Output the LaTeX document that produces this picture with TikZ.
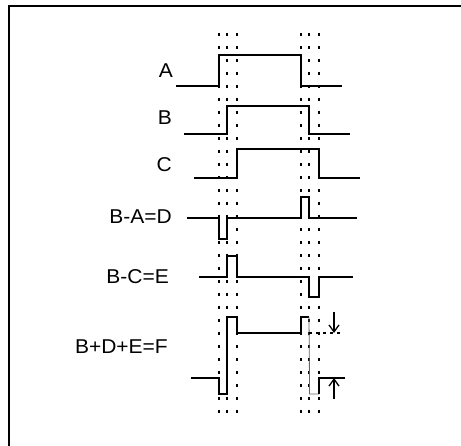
\documentclass[tikz,border=0pt]{standalone}
\usepackage{fontspec}
\setmainfont{Liberation Sans}
\usetikzlibrary{arrows.meta}
\begin{document}
\begin{tikzpicture}[x=1pt,y=-1pt,
  sig/.style={line width=2pt, line join=miter},
  guide/.style={line width=1.8pt, dash pattern=on 3.5pt off 9.5pt},
  lbl/.style={anchor=east, inner sep=0pt, font=\fontsize{20}{24}\selectfont},
  thinsig/.style={line width=0.8pt, black!60},
  meas/.style={line width=1.3pt, -{Straight Barb[length=7pt,width=10pt]}},
  level/.style={line width=1.6pt, dash pattern=on 3pt off 4pt}
]
\useasboundingbox (0,0) rectangle (461,446);
% frame (top and left only)
\draw[line width=2pt] (461,6) -- (8.5,6) -- (8.5,446);
% guide lines
\foreach \gx/\gn in {219/a,227/b,237/c,301/d,309/e,319/f}{
  \coordinate (gt\gn) at (\gx,33);
  \coordinate (gb\gn) at (\gx,418);
  \draw[guide] (gt\gn) -- (gb\gn);
}
% labels
\node[lbl] (lA) at (173,71) {\scalebox{1.05}[1]{A}};
\node[lbl] (lB) at (172,118) {\scalebox{1.05}[1]{B}};
\node[lbl] (lC) at (172,165) {\scalebox{1.05}[1]{C}};
\node[lbl] (lD) at (172,217) {\scalebox{1.05}[1]{B-A=D}};
\node[lbl] (lE) at (169,277) {\scalebox{1.05}[1]{B-C=E}};
\node[lbl] (lF) at (168,347) {\scalebox{1.05}[1]{B+D+E=F}};
% waveforms
\draw[sig] (176,86) -- (219,86) -- (219,55) -- (301,55) -- (301,86) -- (342,86);
\draw[sig] (184,134) -- (227,134) -- (227,106) -- (309,106) -- (309,134) -- (350,134);
\draw[sig] (194,178) -- (237,178) -- (237,149) -- (319,149) -- (319,178) -- (360,178);
\draw[sig] (187,218) -- (219,218) -- (219,239) -- (227,239) -- (227,218) -- (301,218)
  -- (301,197) -- (309,197) -- (309,218) -- (357,218);
\draw[sig] (199,277) -- (227,277) -- (227,256) -- (237,256) -- (237,277) -- (309,277)
  -- (309,297) -- (319,297) -- (319,277) -- (353,277);
\draw[sig] (191,378) -- (219,378) -- (219,394) -- (227,394) -- (227,317) -- (237,317)
  -- (237,333) -- (301,333) -- (301,317) -- (309,317);
\draw[thinsig] (309,317) -- (309.6,394) -- (319,394);
\draw[sig] (319,394) -- (319,378) -- (345,378);
% level marker and arrows
\coordinate (lv1) at (309,333);
\coordinate (lv2) at (341,333);
\draw[level] (lv1) -- (lv2);
\coordinate (ad1) at (334,312);
\coordinate (ad2) at (334,333);
\draw[meas] (ad1) -- (ad2);
\coordinate (au1) at (334,399);
\coordinate (au2) at (334,378);
\draw[meas] (au1) -- (au2);
\end{tikzpicture}
\end{document}
